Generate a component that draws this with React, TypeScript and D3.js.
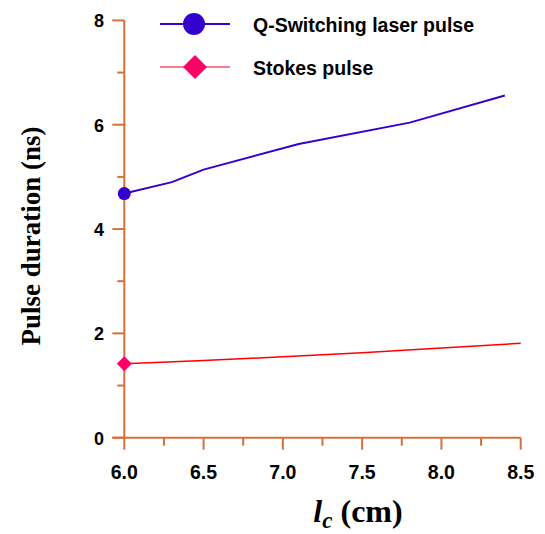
import React, { useEffect, useRef } from 'react';
import * as d3 from 'd3';

const qsX = [6.0, 6.3, 6.5, 7.1, 7.8, 8.4];
const qsY = [4.68, 4.9, 5.14, 5.63, 6.04, 6.56];
const stX = [6.0, 6.5, 7.0, 7.5, 8.0, 8.5];
const stY = [1.42, 1.48, 1.55, 1.63, 1.72, 1.81];
const xTicks = [6.0, 6.5, 7.0, 7.5, 8.0, 8.5];
const yTicks = [0, 2, 4, 6, 8];
const legendNames = ['Q-Switching laser pulse', 'Stokes pulse'];

const axisColor = '#d4703c';
const blue = '#3300cc';
const red = '#ff0000';
const pink = '#ff0066';

export default function App() {
  const ref = useRef<SVGSVGElement>(null);

  useEffect(() => {
    const svg = d3.select(ref.current);
    svg.selectAll('*').remove();

    const x = d3.scaleLinear().domain([6, 8.5]).range([124.3, 520.7]);
    const y = d3.scaleLinear().domain([0, 8]).range([437.7, 20.4]);

    const g = svg.append('g');

    // y axis
    g.append('line')
      .attr('x1', x(6)).attr('x2', x(6))
      .attr('y1', y(0)).attr('y2', y(8))
      .attr('stroke', axisColor).attr('stroke-width', 2);
    g.selectAll('.ymaj').data(yTicks).enter().append('line')
      .attr('x1', x(6) - 12).attr('x2', x(6))
      .attr('y1', d => y(d)).attr('y2', d => y(d))
      .attr('stroke', axisColor).attr('stroke-width', 2);
    g.selectAll('.ymin').data(d3.range(1, 8, 2)).enter().append('line')
      .attr('x1', x(6) - 7).attr('x2', x(6))
      .attr('y1', d => y(d)).attr('y2', d => y(d))
      .attr('stroke', axisColor).attr('stroke-width', 2);
    g.selectAll('.ylab').data(yTicks).enter().append('text')
      .attr('x', 104).attr('y', d => y(d) + 7)
      .attr('text-anchor', 'end')
      .attr('font-family', 'Liberation Sans, Arial, sans-serif')
      .attr('font-weight', 'bold').attr('font-size', 18)
      .text(d => d);

    // x axis
    g.append('line')
      .attr('x1', x(6) - 12).attr('x2', x(8.5))
      .attr('y1', y(0)).attr('y2', y(0))
      .attr('stroke', axisColor).attr('stroke-width', 2);
    g.selectAll('.xmaj').data(xTicks).enter().append('line')
      .attr('x1', d => x(d)).attr('x2', d => x(d))
      .attr('y1', y(0)).attr('y2', y(0) + 12)
      .attr('stroke', axisColor).attr('stroke-width', 2);
    g.selectAll('.xmin').data(d3.range(6.25, 8.5, 0.5)).enter().append('line')
      .attr('x1', d => x(d)).attr('x2', d => x(d))
      .attr('y1', y(0)).attr('y2', y(0) + 8)
      .attr('stroke', axisColor).attr('stroke-width', 2);
    g.selectAll('.xlab').data(xTicks).enter().append('text')
      .attr('x', d => x(d)).attr('y', 479)
      .attr('text-anchor', 'middle')
      .attr('font-family', 'Liberation Sans, Arial, sans-serif')
      .attr('font-weight', 'bold').attr('font-size', 19.5)
      .text(d => d.toFixed(1));

    // axis titles
    svg.append('text')
      .attr('transform', 'translate(40,236) rotate(-90)')
      .attr('text-anchor', 'middle')
      .attr('font-family', 'Liberation Serif, Times New Roman, serif')
      .attr('font-weight', 'bold').attr('font-size', 27)
      .text('Pulse duration (ns)');

    const xt = svg.append('text')
      .attr('x', 358).attr('y', 522)
      .attr('text-anchor', 'middle')
      .attr('font-family', 'Liberation Serif, Times New Roman, serif')
      .attr('font-weight', 'bold').attr('font-size', 32);
    xt.append('tspan').attr('font-style', 'italic').text('l');
    xt.append('tspan').attr('font-style', 'italic').attr('font-size', 23).attr('dy', 6).text('c');
    xt.append('tspan').attr('dy', -6).text(' (cm)');

    const line = d3.line<[number, number]>().x(d => x(d[0])).y(d => y(d[1]));

    const qs = qsX.map((v, i) => [v, qsY[i]] as [number, number]);
    const st = stX.map((v, i) => [v, stY[i]] as [number, number]);

    svg.append('path').attr('d', line(qs)).attr('fill', 'none')
      .attr('stroke', blue).attr('stroke-width', 2);
    svg.append('path').attr('d', line(st)).attr('fill', 'none')
      .attr('stroke', red).attr('stroke-width', 1.5);

    svg.append('circle').attr('cx', x(qsX[0])).attr('cy', y(qsY[0])).attr('r', 6.5).attr('fill', blue);
    const dm = 7.5;
    svg.append('path')
      .attr('d', `M0,${-dm}L${dm},0L0,${dm}L${-dm},0Z`)
      .attr('transform', `translate(${x(stX[0])},${y(stY[0])})`)
      .attr('fill', pink);

    // legend
    const lg = svg.append('g');
    lg.append('line').attr('x1', 160).attr('x2', 230).attr('y1', 24).attr('y2', 24)
      .attr('stroke', blue).attr('stroke-width', 2);
    lg.append('circle').attr('cx', 194).attr('cy', 24).attr('r', 11).attr('fill', blue);
    lg.append('line').attr('x1', 160).attr('x2', 230).attr('y1', 67).attr('y2', 67)
      .attr('stroke', '#ff4d6d').attr('stroke-width', 1.5);
    const ld = 12;
    lg.append('path')
      .attr('d', `M0,${-ld}L${ld},0L0,${ld}L${-ld},0Z`)
      .attr('transform', 'translate(195,67)')
      .attr('fill', pink);
    lg.selectAll('.lt').data(legendNames).enter().append('text')
      .attr('x', 253).attr('y', (d, i) => 32 + i * 43)
      .attr('font-family', 'Liberation Sans, Arial, sans-serif')
      .attr('font-weight', 'bold').attr('font-size', 19.5)
      .text(d => d);
  }, []);

  return (
    <svg ref={ref} width={545} height={534}
      style={{ position: 'absolute', left: 0, top: 0, background: '#fff' }} />
  );
}
